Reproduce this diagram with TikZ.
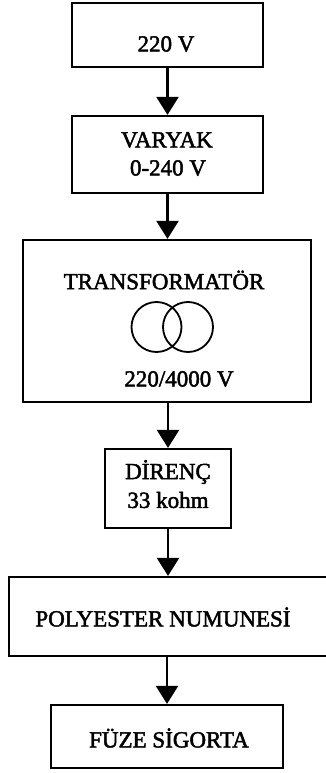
\documentclass[tikz,border=0pt]{standalone}
\usepackage{fontspec}
\setmainfont{Liberation Serif}
\newfontfamily\scanfont[FakeBold=2]{Liberation Serif}
\usetikzlibrary{arrows.meta}
\tikzset{
  blk/.style={draw, line width=2.2pt, rectangle, inner sep=0pt},
  lbl/.style={inner sep=0pt, font=\scanfont\fontsize{23}{25}\selectfont},
  conn/.style={line width=2.2pt, -{Triangle[width=22pt,length=18pt]}},
  coil/.style={draw, circle, line width=1.8pt, minimum size=50pt, inner sep=0pt}
}
\begin{document}
\begin{tikzpicture}[x=1pt,y=-1pt]
\useasboundingbox (0,0) rectangle (325,773);
% boxes
\node[blk, minimum width=191pt, minimum height=64pt] (b1) at (167.5,35) {};
\node[blk, minimum width=191pt, minimum height=77pt] (b2) at (167.5,154.5) {};
\node[blk, minimum width=288pt, minimum height=162pt] (b3) at (167,321) {};
\node[blk, minimum width=126pt, minimum height=79pt] (b4) at (168,488.5) {};
\node[blk, minimum width=326pt, minimum height=79pt] (b5) at (172,616.5) {};
\node[blk, minimum width=232pt, minimum height=63pt] (b6) at (167,736.5) {};
% texts
\node[lbl] (t1) at (166,44) {220 V};
\node[lbl] (t2a) at (167,140) {VARYAK};
\node[lbl] (t2b) at (168,168) {0-240 V};
\node[lbl] (t3a) at (164,280) {TRANSFORMATÖR};
\node[lbl] (t3b) at (179,379) {220/4000 V};
\node[lbl] (t4a) at (168,472) {DİRENÇ};
\node[lbl] (t4b) at (168,500) {33 kohm};
\node[lbl] (t5) at (163,617) {POLYESTER NUMUNESİ};
\node[lbl] (t6) at (169,738) {FÜZE SİGORTA};
% transformer symbol
\node[coil] (c1) at (156.5,327) {};
\node[coil] (c2) at (188,327) {};
% connectors
\draw[conn] (b1.south) -- (b2.north);
\draw[conn] (b2.south) -- (b3.north -| b2.south);
\draw[conn] (b3.south -| b4.north) -- (b4.north);
\draw[conn] (b4.south) -- (b5.north -| b4.south);
\draw[conn] (b5.south -| b6.north) -- (b6.north);
\end{tikzpicture}
\end{document}
